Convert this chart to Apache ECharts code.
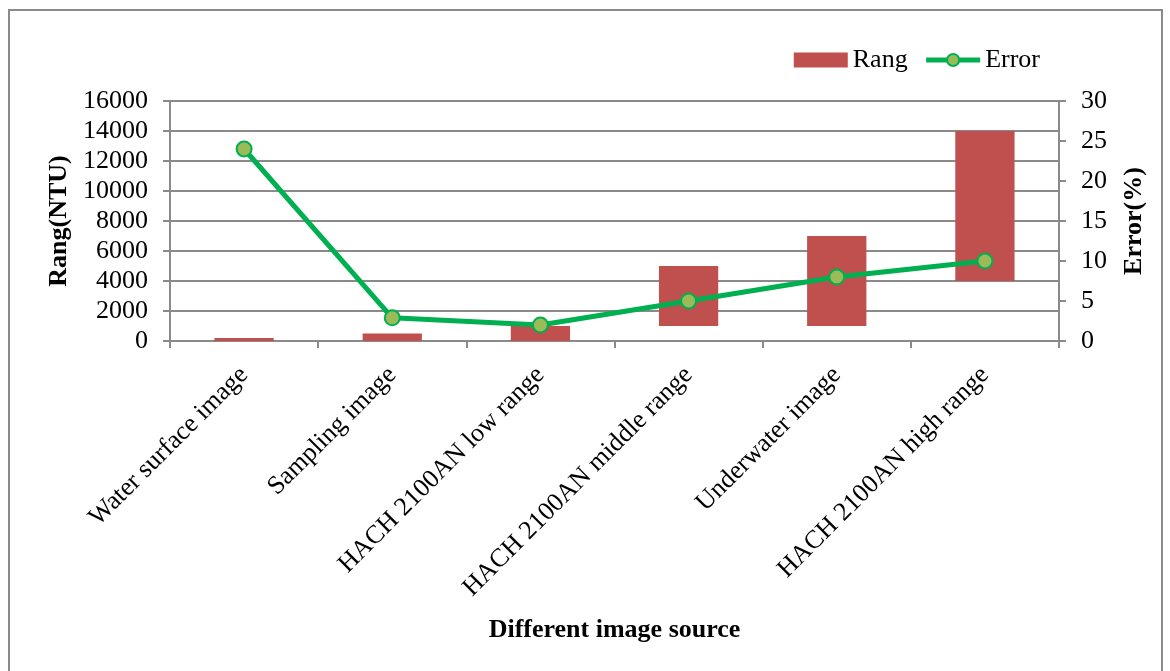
<!DOCTYPE html>
<html>
<head>
<meta charset="utf-8">
<script src="https://cdn.jsdelivr.net/npm/echarts@6/dist/echarts.min.js"></script>
<style>
html,body{margin:0;padding:0;background:#fff;}
#chart{width:1170px;height:671px;}
</style>
</head>
<body>
<div id="chart"></div>
<script>
var categories = ['Water surface image','Sampling image','HACH 2100AN low range','HACH 2100AN middle range','Underwater image','HACH 2100AN high range'];
var rangLow = [0, 0, 0, 1000, 1000, 4000];
var rangHigh = [200, 500, 1000, 5000, 7000, 14000];
var errorVals = [24, 2.9, 2, 5, 8, 10];

function drawChart(){
	//range bars + error line
	var chart = echarts.init(document.querySelector('#chart'))
	var font = '"Liberation Serif", "Times New Roman", serif'
	var rangSpan = rangHigh.map(function(v, i){ return v - rangLow[i] })
	var option = {
    textStyle: { fontFamily: font },
    animation: false,
    graphic: [{
        type: 'rect',
        shape: { x: 9, y: 10, width: 1153, height: 680 },
        style: { fill: 'none', stroke: '#8a8a8a', lineWidth: 2 }
    }],
    legend: {
        data: [
            { name: 'Rang', icon: 'rect' },
            { name: 'Error', lineStyle: { width: 5 } }
        ],
        right: 125,
        top: 42,
        itemWidth: 54,
        itemHeight: 15,
        itemGap: 16,
        textStyle: { fontFamily: font, fontSize: 26, color: '#000' }
    },
    grid: {
        left: 170,
        right: 111,
        top: 101,
        bottom: 330
    },
    xAxis: {
        type: 'category',
        data: categories,
        name: 'Different image source',
        nameLocation: 'middle',
        nameGap: 276,
        nameTextStyle: { fontFamily: font, fontSize: 26, fontWeight: 'bold', color: '#000' },
        axisLine: { lineStyle: { color: '#8a8a8a', width: 2 } },
        axisTick: { show: true, length: 7, lineStyle: { color: '#8a8a8a', width: 2 } },
        axisLabel: { rotate: 45, margin: 30, fontFamily: font, fontSize: 26, color: '#000', interval: 0 }
    },
    yAxis: [
        {
            type: 'value',
            min: 0,
            max: 16000,
            interval: 2000,
            name: 'Rang(NTU)',
            nameLocation: 'middle',
            nameGap: 91,
            nameTextStyle: { fontFamily: font, fontSize: 26, fontWeight: 'bold', color: '#000' },
            axisLine: { show: true, lineStyle: { color: '#8a8a8a', width: 2 } },
            axisTick: { show: true, length: 7, lineStyle: { color: '#8a8a8a', width: 2 } },
            axisLabel: { margin: 22, fontFamily: font, fontSize: 26, color: '#000', formatter: function(v){ return String(v) } },
            splitLine: { show: true, lineStyle: { color: '#8a8a8a', width: 2 } }
        },
        {
            type: 'value',
            min: 0,
            max: 30,
            interval: 5,
            name: 'Error(%)',
            nameLocation: 'middle',
            nameGap: 62,
            nameTextStyle: { fontFamily: font, fontSize: 26, fontWeight: 'bold', color: '#000' },
            axisLine: { show: true, lineStyle: { color: '#8a8a8a', width: 2 } },
            axisTick: { show: true, length: 7, lineStyle: { color: '#8a8a8a', width: 2 } },
            axisLabel: { margin: 22, fontFamily: font, fontSize: 26, color: '#000' },
            splitLine: { show: false }
        }
    ],
    series: [
        {
            name: 'base',
            type: 'bar',
            stack: 'rang',
            barWidth: '40%',
            itemStyle: { color: 'transparent' },
            data: rangLow,
            silent: true
        },
        {
            name: 'Rang',
            type: 'bar',
            stack: 'rang',
            barWidth: '40%',
            itemStyle: { color: '#C0504D' },
            data: rangSpan
        },
        {
            name: 'Error',
            type: 'line',
            yAxisIndex: 1,
            symbol: 'circle',
            symbolSize: 15,
            lineStyle: { color: '#00B050', width: 5 },
            itemStyle: { color: '#9BBB59', borderColor: '#00B050', borderWidth: 2 },
            data: errorVals
        }
    ]
};

	chart.setOption(option)
}

drawChart()
</script>
</body>
</html>
